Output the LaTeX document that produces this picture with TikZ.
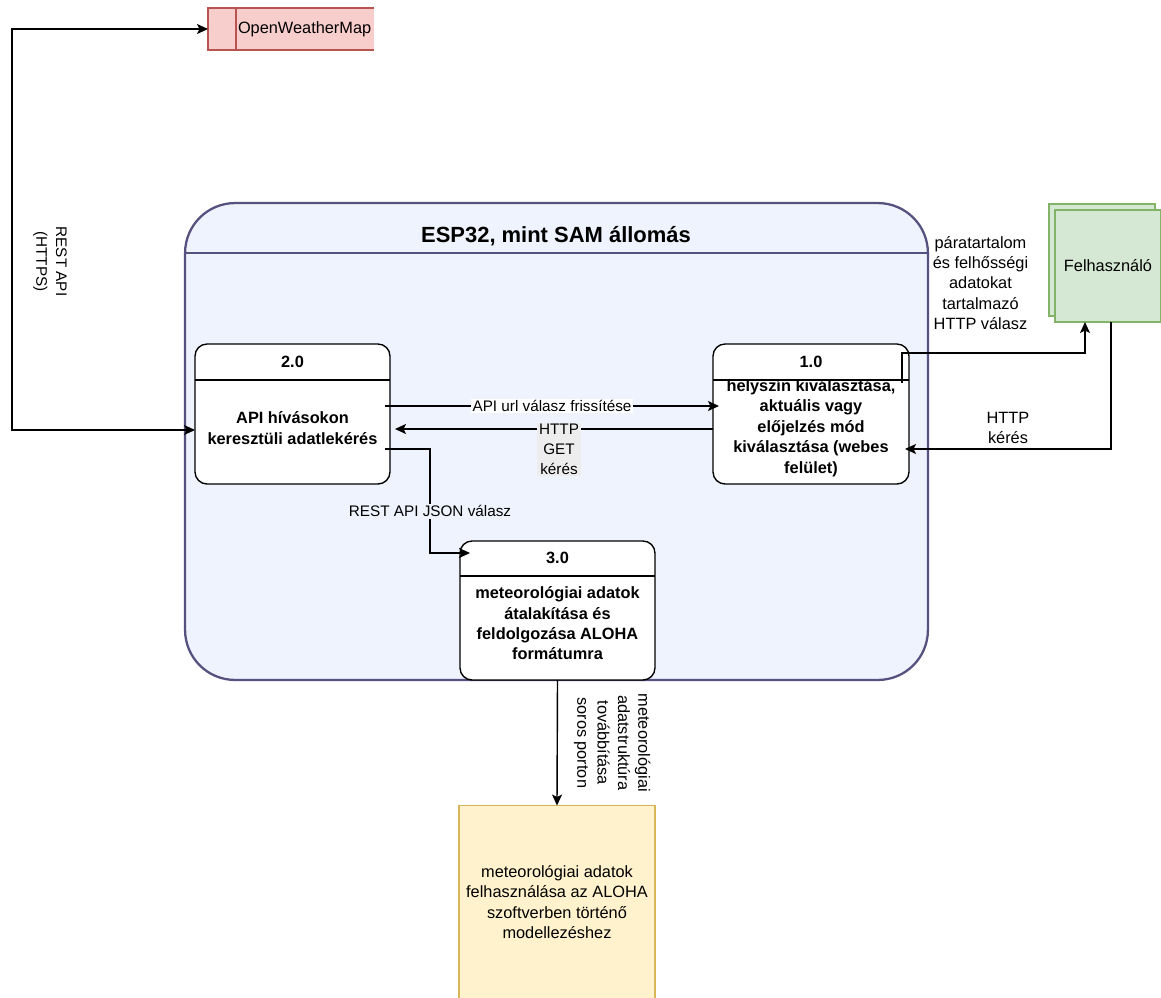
\documentclass[tikz,border=0pt]{standalone}
\usepackage{fontspec}
\setmainfont{Liberation Sans}
\usetikzlibrary{arrows.meta,calc}

\definecolor{owmfill}{HTML}{F8CECC}
\definecolor{owmline}{HTML}{B85450}
\definecolor{usrfill}{HTML}{D5E8D4}
\definecolor{usrline}{HTML}{82B366}
\definecolor{alofill}{HTML}{FFF2CC}
\definecolor{aloline}{HTML}{D6B656}
\definecolor{espfill}{HTML}{EFF3FD}
\definecolor{espline}{HTML}{56517E}
\definecolor{lblgray}{HTML}{EDEDED}

\begin{document}
\begin{tikzpicture}[x=0.02cm,y=-0.02cm,
  every node/.style={inner sep=0pt, outer sep=0pt},
  proc/.style={draw=black, line width=0.8pt, fill=white, rounded corners=0.24cm,
               minimum width=3.9cm, minimum height=2.8cm},
  bodytxt/.style={font=\bfseries\fontsize{9.3}{11.6}\selectfont, align=center},
  plaintxt/.style={font=\fontsize{9.3}{11.6}\selectfont, align=center},
  lbl/.style={font=\fontsize{8.7}{11.3}\selectfont, align=center, inner sep=1pt},
  lblbig/.style={font=\fontsize{9.3}{11.6}\selectfont, align=center, inner sep=1pt},
  arr/.style={draw, line width=0.8pt, -{Stealth[length=0.22cm,width=0.2cm,inset=0.05cm]}},
  arrboth/.style={draw, line width=0.8pt,
    {Stealth[length=0.22cm,width=0.2cm,inset=0.05cm]}-{Stealth[length=0.22cm,width=0.2cm,inset=0.05cm]}}
]
\useasboundingbox (0,0) rectangle (1161,998);

% external data source
\node[fill=owmfill, minimum width=3.32cm, minimum height=0.84cm] (owm) at (291,29) {};
\draw[owmline, line width=0.8pt] (owm.north east) -- (owm.north west) -- (owm.south west) -- (owm.south east);
\draw[owmline, line width=0.8pt] ($(owm.north west)+(28,0)$) -- ($(owm.south west)+(28,0)$);
\node[plaintxt, anchor=west] (owmtxt) at ($(owm.west)+(30,0)$) {OpenWeatherMap};

% user (stacked entity)
\node[draw=usrline, fill=usrfill, line width=0.8pt, minimum width=2.12cm, minimum height=2.24cm] (felhb) at (1102,260) {};
\node[draw=usrline, fill=usrfill, line width=0.8pt, minimum width=2.12cm, minimum height=2.24cm] (felh) at (1108,266) {};
\node[plaintxt] (felhtxt) at (felh) {Felhasználó};

% ALOHA sink
\node[draw=aloline, fill=alofill, line width=0.8pt, minimum width=3.92cm, minimum height=3.9cm] (aloha) at (557,903) {};
\node[plaintxt] (alohatxt) at (557,902) {meteorológiai adatok\\felhasználása az ALOHA\\szoftverben történő\\modellezéshez};

% ESP32 container
\node[draw=espline, fill=espfill, line width=1.3pt, rounded corners=1cm,
      minimum width=14.86cm, minimum height=9.54cm] (esp) at (556.5,441.5) {};
\draw[espline, line width=1.3pt] (esp.west |- 0,253) -- (esp.east |- 0,253);
\node[font=\bfseries\fontsize{12.5}{15}\selectfont] (esptitle) at (556,236) {ESP32, mint SAM állomás};

% processes
\node[proc] (p2) at (292.5,414) {};
\draw[line width=0.8pt] ($(p2.north west)+(0,36)$) -- ($(p2.north east)+(0,36)$);
\node[bodytxt] (p2num) at (292.5,362) {2.0};
\node[bodytxt] (p2txt) at (292.5,428) {API hívásokon\\keresztüli adatlekérés};

\node[proc, minimum width=3.92cm] (p1) at (811,414) {};
\draw[line width=0.8pt] ($(p1.north west)+(0,36)$) -- ($(p1.north east)+(0,36)$);
\node[bodytxt] (p1num) at (811,362) {1.0};
\node[bodytxt] (p1txt) at (811,428) {helyszín kiválasztása,\\aktuális vagy\\előjelzés mód\\kiválasztása (webes\\felület)};

\node[proc, minimum height=2.78cm] (p3) at (557.5,610.5) {};
\draw[line width=0.8pt] ($(p3.north west)+(0,35)$) -- ($(p3.north east)+(0,35)$);
\node[bodytxt] (p3num) at (557.5,558) {3.0};
\node[bodytxt] (p3txt) at (557.5,623.5) {meteorológiai adatok\\átalakítása és\\feldolgozása ALOHA\\formátumra};

% data flows
\draw[arrboth] (owm.west) -- ++(-196,0) |- ($(p2.west)+(0,16)$)
  node[lbl, pos=0.29, xshift=0.76cm, rotate=-90] {REST API\\(HTTPS)};

\draw[arr] ($(p2.east)+(-5,-8)$) -- ($(p1.west)+(6,-8)$)
  node[lbl, midway, fill=white] {API url válasz frissítése};

\draw[arr] ($(p1.west)+(0,15)$) -- ($(p2.east)+(5,15)$)
  node[lbl, midway, xshift=0.1cm, yshift=-0.41cm, fill=lblgray] {HTTP\\GET\\kérés};

\draw[arr] ($(p2.east)+(-5,35)$) -- ++(45,0) |- ($(p3.west)+(10,-57.5)$)
  node[lbl, pos=0.3, fill=espfill] {REST API JSON válasz};

\draw[arr] (p3.south) -- (aloha.north)
  node[lblbig, midway, xshift=1.1cm, rotate=-90] {meteorológiai\\adatstruktúra\\továbbítása\\soros porton};

\draw[arr] ($(p1.north east)+(-7,39)$) -- ++(0,-30) -| ($(felh.south)+(-23,0)$)
  node[lblbig, pos=0.25, xshift=-0.26cm, yshift=1.4cm] {páratartalom\\és felhősségi\\adatokat\\tartalmazó\\HTTP válasz};

\draw[arr] ($(felh.south)+(3,0)$) |- ($(p1.east)+(-4,35)$)
  node[lblbig, pos=0.75, yshift=0.42cm] {HTTP\\kérés};
\end{tikzpicture}
\end{document}
